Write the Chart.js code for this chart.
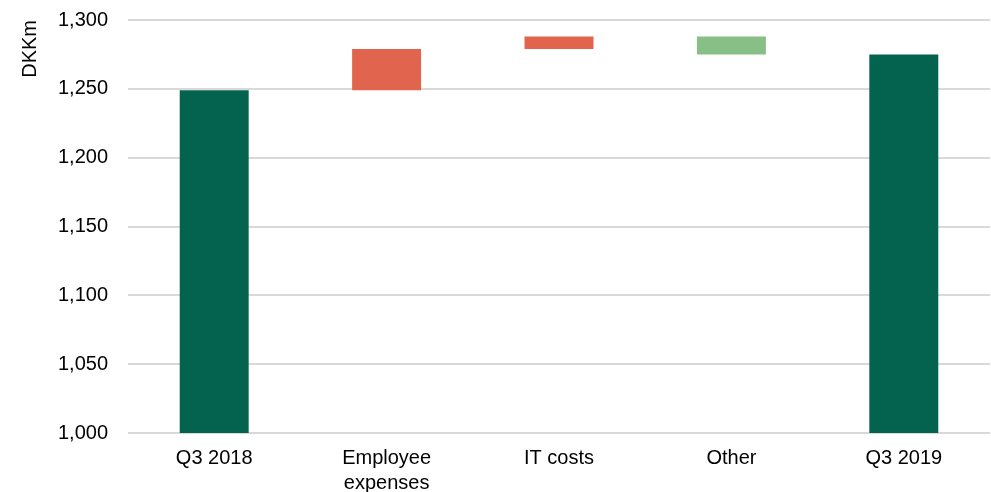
<!DOCTYPE html>
<html>
<head>
    <title>DKKm bridge</title>
    <script src="https://cdn.jsdelivr.net/npm/chart.js"></script>
    <style>
        html, body { margin: 0; padding: 0; background: #fff; }
        .chart-box { width: 991px; height: 492px; position: relative; }
    </style>
</head>
<body>
    <div class="chart-box">
        <canvas id="bridgeChart"></canvas>
    </div>

    <script>
        // Chart data
        const categories = ['Q3 2018', ['Employee', 'expenses'], 'IT costs', 'Other', 'Q3 2019'];
        const barStarts = [1000, 1249, 1279, 1288, 1000];
        const barEnds = [1249, 1279, 1288, 1275, 1275];
        const barColors = ['#04634F', '#E0644E', '#E0644E', '#87BF86', '#04634F'];
        const yTicks = [1000, 1050, 1100, 1150, 1200, 1250, 1300];

        const font = { family: '"Liberation Sans", Arial, sans-serif', size: 20, lineHeight: 1.25 };

        new Chart(document.getElementById('bridgeChart').getContext('2d'), {
            type: 'bar',
            data: {
                labels: categories,
                datasets: [{
                    data: barStarts.map((s, i) => [s, barEnds[i]]),
                    backgroundColor: barColors,
                    borderWidth: 0,
                    barPercentage: 1,
                    categoryPercentage: 0.4
                }]
            },
            options: {
                responsive: true,
                maintainAspectRatio: false,
                animation: false,
                layout: { padding: { top: 0, right: 1, bottom: 0, left: 18 } },
                plugins: {
                    legend: { display: false },
                    tooltip: { enabled: false }
                },
                scales: {
                    x: {
                        grid: { display: false, drawTicks: false },
                        border: { display: false },
                        ticks: { color: '#000', font: font, padding: 13 },
                        afterFit: axis => { axis.height = 59; }
                    },
                    y: {
                        min: 1000,
                        max: 1300,
                        afterBuildTicks: axis => { axis.ticks = yTicks.map(v => ({ value: v })); },
                        afterFit: axis => {
                            axis.width = 110;
                            axis.paddingTop = 20;
                            axis.paddingBottom = 0;
                        },
                        grid: { color: '#d9d9d9', lineWidth: 2, drawTicks: false },
                        border: { display: false },
                        ticks: {
                            color: '#000',
                            font: font,
                            padding: 20,
                            callback: v => v.toLocaleString('en-US')
                        },
                        title: {
                            display: true,
                            text: 'DKKm',
                            align: 'end',
                            color: '#000',
                            font: { family: font.family, size: 20, lineHeight: 1.2 },
                            padding: { top: 0, bottom: 14 }
                        }
                    }
                }
            }
        });
    </script>
</body>
</html>
